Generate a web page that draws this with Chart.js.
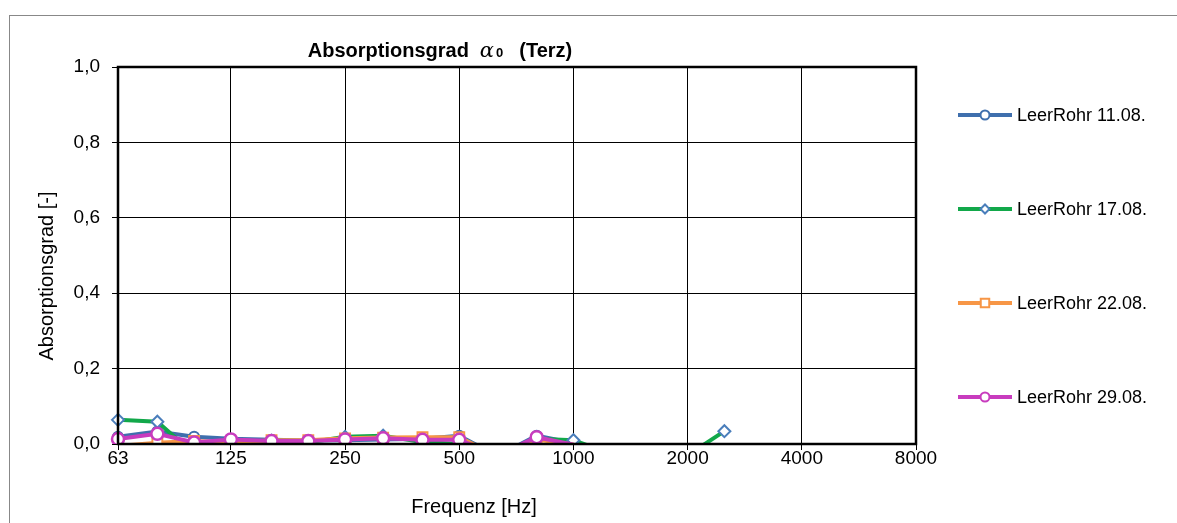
<!DOCTYPE html>
<html>
<head>
<meta charset="utf-8">
<script src="https://cdn.jsdelivr.net/npm/chart.js@4.4.1/dist/chart.umd.min.js"></script>
<style>
    body { margin: 0; background: #fff; }
    canvas { display: block; }
</style>
</head>
<body>
<canvas id="chart" width="1177" height="523"></canvas>
<script>
// Terzmittenfrequenzen
const freqs = [63, 80, 100, 125, 160, 200, 250, 315, 400, 500, 630, 800, 1000, 1250, 1600, 2000, 2500];
const xTicks = [63, 125, 250, 500, 1000, 2000, 4000, 8000];

const rohr1108 = [0.019, 0.033, 0.019, 0.014, 0.011, 0.009, 0.010, 0.012, 0.014, 0.022, -0.032, 0.022, 0.002, -0.030, -0.040, -0.040, -0.040];
const rohr1708 = [0.064, 0.059, -0.027, 0.000, 0.008, 0.004, 0.019, 0.022, 0.005, 0.000, -0.032, 0.014, 0.010, -0.025, -0.040, -0.030, 0.034];
const rohr2208 = [-0.005, 0.003, 0.008, 0.003, 0.010, 0.010, 0.015, 0.017, 0.018, 0.018, -0.032, 0.012, -0.002, -0.030, -0.040, -0.040, -0.040];
const rohr2908 = [0.013, 0.027, 0.004, 0.012, 0.008, 0.008, 0.012, 0.015, 0.011, 0.011, -0.030, 0.018, -0.002, -0.030, -0.040, -0.040, -0.040];

const FONT = '"Liberation Sans", Arial, sans-serif';
Chart.defaults.color = '#000';
Chart.defaults.font.family = FONT;

function toPoints(values) {
    return values.map((v, i) => ({ x: freqs[i], y: v }));
}

const seriesDefs = [
    { label: 'LeerRohr 11.08.', data: rohr1108, color: '#3f6fad', marker: 'circle', markerColor: '#3f6fad', r: 5, order: 4 },
    { label: 'LeerRohr 17.08.', data: rohr1708, color: '#12a84a', marker: 'rectRot', markerColor: '#4a7ebb', r: 6, order: 3 },
    { label: 'LeerRohr 22.08.', data: rohr2208, color: '#f79646', marker: 'rect', markerColor: '#f79646', r: 7, order: 2 },
    { label: 'LeerRohr 29.08.', data: rohr2908, color: '#c83cbe', marker: 'circle', markerColor: '#c83cbe', r: 6, order: 1 }
];

const datasets = seriesDefs.map(s => ({
    label: s.label,
    data: toPoints(s.data),
    borderColor: s.color,
    backgroundColor: s.color,
    borderWidth: 4,
    tension: 0,
    pointStyle: s.marker,
    pointRadius: ctx => (ctx.raw && ctx.raw.y < 0 ? 0 : s.r),
    pointBackgroundColor: '#fff',
    pointBorderColor: s.markerColor,
    pointBorderWidth: s.order === 1 ? 2.5 : 2,
    order: s.order,
    clip: { left: 10, right: 10, top: 10, bottom: 0 }
}));

// Rahmen, Titel, Achsentitel und Legende
const decorPlugin = {
    id: 'decor',
    beforeDraw(chart) {
        const ctx = chart.ctx;
        ctx.save();
        ctx.strokeStyle = '#888';
        ctx.lineWidth = 1;
        ctx.strokeRect(9.5, 15.5, 1300, 700);
        ctx.restore();
    },
    afterDraw(chart) {
        const ctx = chart.ctx;
        const a = chart.chartArea;
        ctx.save();

        // Plotrahmen
        ctx.strokeStyle = '#000';
        ctx.lineWidth = 2.5;
        ctx.strokeRect(a.left, a.top, a.right - a.left, a.bottom - a.top);

        // Titel
        const parts = [
            { t: 'Absorptionsgrad', f: 'bold 20px ' + FONT, gap: 11 },
            { t: 'α', f: 'italic 21px "DejaVu Serif", serif', gap: 2 },
            { t: '0', f: 'bold 13px ' + FONT, gap: 16 },
            { t: '(Terz)', f: 'bold 20px ' + FONT, gap: 0 }
        ];
        let total = 0;
        parts.forEach(p => { ctx.font = p.f; p.w = ctx.measureText(p.t).width; total += p.w + p.gap; });
        let x = 440 - total / 2;
        ctx.fillStyle = '#000';
        ctx.textBaseline = 'alphabetic';
        ctx.textAlign = 'left';
        parts.forEach(p => { ctx.font = p.f; ctx.fillText(p.t, x, 57); x += p.w + p.gap; });

        // Achsentitel
        ctx.font = '20px ' + FONT;
        ctx.textAlign = 'center';
        ctx.textBaseline = 'middle';
        ctx.fillText('Frequenz [Hz]', 474, 507);
        ctx.save();
        ctx.translate(47, 276);
        ctx.rotate(-Math.PI / 2);
        ctx.fillText('Absorptionsgrad [-]', 0, 0);
        ctx.restore();

        // Legende
        const rows = [115, 209, 303, 397];
        seriesDefs.forEach((s, i) => {
            const y = rows[i];
            ctx.strokeStyle = s.color;
            ctx.lineWidth = 4;
            ctx.beginPath();
            ctx.moveTo(958, y);
            ctx.lineTo(1012, y);
            ctx.stroke();
            ctx.fillStyle = '#fff';
            ctx.strokeStyle = s.markerColor;
            ctx.lineWidth = 2;
            Chart.helpers.drawPoint(ctx, { pointStyle: s.marker, radius: s.marker === 'rect' ? 6 : 4.5, rotation: 0, borderWidth: 2 }, 985, y);
            ctx.fillStyle = '#000';
            ctx.font = '18px ' + FONT;
            ctx.textAlign = 'left';
            ctx.textBaseline = 'middle';
            ctx.fillText(s.label, 1017, y + 1);
        });
        ctx.restore();
    }
};

new Chart(document.getElementById('chart'), {
    type: 'line',
    data: { datasets: datasets },
    options: {
        responsive: false,
        animation: false,
        layout: { padding: { top: 67, right: 261, left: 0, bottom: 0 } },
        plugins: {
            legend: { display: false },
            title: { display: false },
            tooltip: { enabled: false }
        },
        scales: {
            x: {
                type: 'logarithmic',
                min: 63,
                max: 8000,
                afterBuildTicks: scale => { scale.ticks = xTicks.map(v => ({ value: v })); },
                afterFit: scale => { scale.height = 79; },
                ticks: {
                    autoSkip: false,
                    maxRotation: 0,
                    padding: -3,
                    font: { size: 19 },
                    callback: v => String(v)
                },
                grid: { color: '#000', lineWidth: 1, tickLength: 6 },
                border: { display: false }
            },
            y: {
                min: 0,
                max: 1,
                afterFit: scale => { scale.width = 118; },
                ticks: {
                    stepSize: 0.2,
                    padding: 12,
                    font: { size: 19 },
                    callback: v => v.toFixed(1).replace('.', ',')
                },
                grid: { color: '#000', lineWidth: 1, tickLength: 6 },
                border: { display: false }
            }
        }
    },
    plugins: [decorPlugin]
});
</script>
</body>
</html>
